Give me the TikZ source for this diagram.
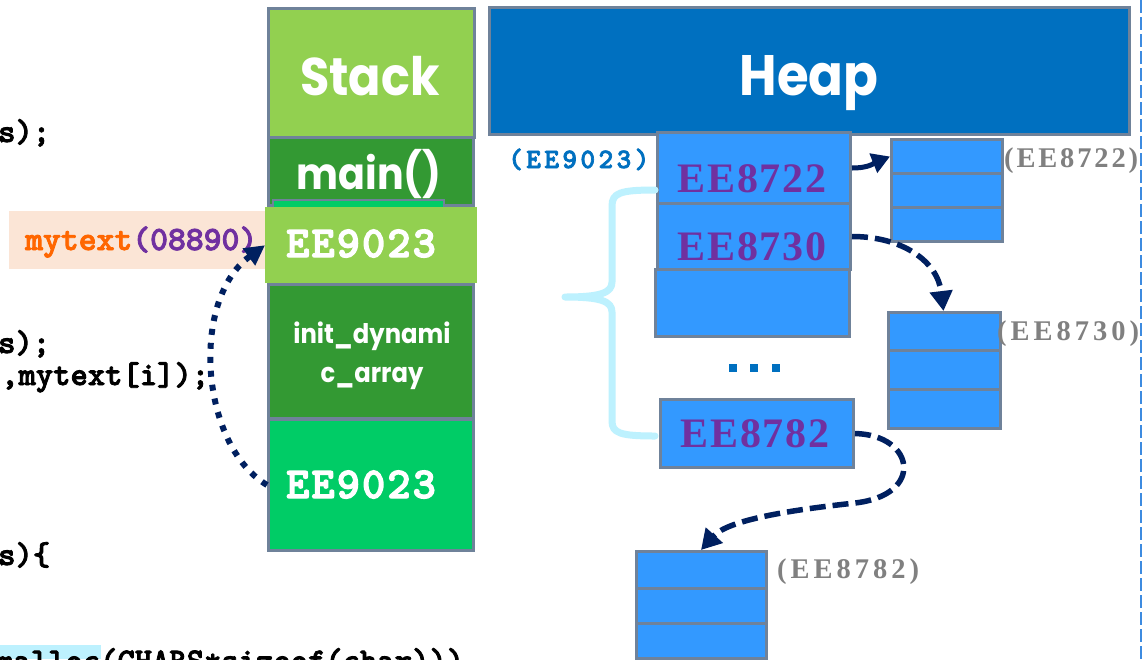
\documentclass[tikz,border=0pt]{standalone}
\usepackage{fontspec}
\usetikzlibrary{arrows.meta}

\newfontfamily\gothic{Poppins}[FakeStretch=0.9]
\newfontfamily\codefont{lmmonolt10-bold.otf}[FakeBold=2.5]
\newfontfamily\stackcode{lmmonolt10-bold.otf}[LetterSpace=5,FakeBold=3]
\newfontfamily\codewide{lmmonolt10-bold.otf}[LetterSpace=12,FakeBold=2.5]
\newfontfamily\addrfont{Liberation Serif}[LetterSpace=4]
\newfontfamily\tagfont{Liberation Serif}[LetterSpace=14]
\newfontfamily\tagfontnarrow{Liberation Serif}[LetterSpace=10]

\definecolor{lightgreen}{HTML}{92D050}
\definecolor{darkgreen}{HTML}{339933}
\definecolor{brightgreen}{HTML}{00CC66}
\definecolor{slate}{HTML}{6F829A}
\definecolor{heapblue}{HTML}{0070C0}
\definecolor{cellblue}{HTML}{3399FF}
\definecolor{addrpurple}{HTML}{7030A0}
\definecolor{navy}{HTML}{002060}
\definecolor{peach}{HTML}{FBE5D6}
\definecolor{varorange}{HTML}{FF6600}
\definecolor{bracecyan}{HTML}{BDF1FE}
\definecolor{taggray}{HTML}{808080}
\definecolor{edgeblue}{HTML}{3D8BE0}

\begin{document}
\begin{tikzpicture}[x=1pt,y=-1pt,
  frame/.style={draw=slate, line width=3pt, rectangle, inner sep=0pt, anchor=north west},
  plain/.style={rectangle, inner sep=0pt, anchor=north west},
  code/.style={font=\codefont\fontsize{33}{36}\selectfont, inner sep=0pt, anchor=base west},
  title/.style={font=\gothic\bfseries\fontsize{53}{58}\selectfont, text=white, inner sep=0pt, anchor=base},
  frametext/.style={font=\gothic\bfseries\fontsize{44}{48}\selectfont, text=white, inner sep=0pt, anchor=base},
  ptr/.style={font=\stackcode\fontsize{44}{46}\selectfont, text=white, inner sep=0pt, anchor=base},
  addr/.style={font=\addrfont\bfseries\fontsize{42}{46}\selectfont, text=addrpurple, inner sep=0pt, anchor=base},
  tag/.style={font=\tagfont\bfseries\fontsize{28.5}{30}\selectfont, text=taggray, inner sep=0pt, anchor=base west},
  cell/.style={frame, fill=cellblue},
  link/.style={draw=navy, line width=5pt},
  dashlink/.style={link, line width=5.5pt, dash pattern=on 16pt off 7pt},
  dotlink/.style={draw=navy, line width=6pt, dash pattern=on 6pt off 8pt},
  bigtip/.style={-{Triangle[length=20pt,width=22pt]}}
]
\useasboundingbox (0,0) rectangle (1142,659);
\clip (0,0) rectangle (1142,659);
\fill[white] (0,0) rectangle (1142,659);

% --- fragments of the C listing ---
\node[code] (l1) at (-2,142) {s);};
\node[plain, fill=peach, minimum width=256pt, minimum height=58pt] (varbox) at (9,211) {};
\node[font=\codefont\fontsize{34}{36}\selectfont, inner sep=0pt, anchor=base west] (varname) at (25,250)
  {\textcolor{varorange}{mytext}\textcolor{addrpurple}{(08890)}};
\node[code] (l2) at (-2,353) {s);};
\node[code] (l3) at (1,385) {,mytext[i]);};
\node[code] (l4) at (-2,565) {s)\{};
\fill[bracecyan] (0,645) rectangle (101,659);
\node[code] (l5) at (-4,671) {malloc(CHARS*sizeof(char)))};

% --- stack column ---
\node[frame, fill=lightgreen, minimum width=206pt, minimum height=129pt] (stack) at (267,7) {};
\node[title] (stacklbl) at (370,95) {Stack};
\node[frame, fill=darkgreen, minimum width=205pt, minimum height=68pt] (mainf) at (267,136) {};
\node[frametext] (mainlbl) at (369,189) {main()};
\node[draw=slate, line width=2pt, fill=brightgreen, plain, minimum width=171pt, minimum height=16pt] (strip) at (272,199) {};
\node[plain, fill=lightgreen, minimum width=212pt, minimum height=76pt] (mytextcell) at (265,207) {};
\node[ptr] (mytextval) at (361,257) {EE9023};
\node[frame, fill=darkgreen, minimum width=205pt, minimum height=134pt] (initf) at (267,283) {};
\node[font=\gothic\bfseries\fontsize{27}{39}\selectfont, text=white, inner sep=0pt, align=center] (initlbl) at (372,356) {init\_dynami\\c\_array};
\node[frame, fill=brightgreen, minimum width=205pt, minimum height=131pt] (argcell) at (267,418) {};
\node[ptr] (argval) at (361,498) {EE9023};

% --- heap ---
\node[frame, fill=heapblue, minimum width=640pt, minimum height=127pt] (heap) at (488,6) {};
\node[title, font=\gothic\bfseries\fontsize{57}{60}\selectfont] (heaplbl) at (809,95) {Heap};
\node[font=\codewide\fontsize{28}{30}\selectfont, text=heapblue, inner sep=0pt, anchor=base west] (arrtag) at (508,168) {(EE9023)};

\node[cell, minimum width=193pt, minimum height=71pt] (b1) at (656,131) {};
\node[addr] (b1lbl) at (752,192) {EE8722};
\node[cell, minimum width=193pt, minimum height=66pt] (b2) at (656,202) {};
\node[addr] (b2lbl) at (752,260) {EE8730};
\node[cell, minimum width=194pt, minimum height=67pt] (b3) at (654,268) {};
\foreach \i/\x in {1/729,2/750,3/772}
  \node[plain, fill=heapblue, minimum width=8pt, minimum height=8pt] (dot\i) at (\x,364) {};
\node[cell, minimum width=193pt, minimum height=68pt] (b4) at (659,398) {};
\node[addr] (b4lbl) at (755,447) {EE8782};

% brace grouping the array slots
\draw[bracecyan, line width=7pt, line cap=round, line join=round]
  (655,190) .. controls (620,190) and (612,193) .. (612,206) -- (612,282)
  .. controls (612,293) and (600,297) .. (565,297)
  .. controls (600,297) and (612,301) .. (612,312) -- (612,421)
  .. controls (612,433) and (620,436) .. (655,436);

% string buffers
\node[cell, minimum width=111pt, minimum height=34pt] (a1r1) at (890,138) {};
\node[cell, minimum width=111pt, minimum height=34pt] (a1r2) at (890,172) {};
\node[cell, minimum width=111pt, minimum height=34pt] (a1r3) at (890,206) {};
\node[tag, font=\tagfontnarrow\bfseries\fontsize{28.5}{30}\selectfont] (a1tag) at (1004,167) {(EE8722)};

\node[cell, minimum width=112pt, minimum height=38pt] (a2r1) at (887,311) {};
\node[cell, minimum width=112pt, minimum height=39pt] (a2r2) at (887,349) {};
\node[cell, minimum width=112pt, minimum height=39pt] (a2r3) at (887,388) {};
\node[tag] (a2tag) at (997,340) {(EE8730)};

\node[cell, minimum width=130pt, minimum height=37pt] (a3r1) at (635,550) {};
\node[cell, minimum width=130pt, minimum height=35pt] (a3r2) at (635,587) {};
\node[cell, minimum width=130pt, minimum height=35pt] (a3r3) at (635,622) {};
\node[tag] (a3tag) at (777,578) {(EE8782)};

% pointers
\draw[link, -{Triangle[length=18pt,width=20pt]}] (b1.east) .. controls +(18,0) and +(-15,6) .. (a1r1.west);
\draw[dashlink, bigtip] (b2.east) .. controls +(50,0) and +(-6,-50) .. ([xshift=-1pt]a2r1.north);
\draw[dashlink, bigtip] (b4.east) .. controls (915,435) and (925,495) .. (855,503)
  .. controls (790,510) and (728,520) .. ([xshift=-0.5pt]a3r1.north);
\draw[dotlink, -{Triangle[length=20pt,width=20pt]}] (argcell.west) .. controls (200,445) and (190,300) .. (mytextcell.west);

% page edge
\draw[edgeblue, line width=2pt, dash pattern=on 13pt off 4pt] (1141,0) -- (1141,659);
\end{tikzpicture}
\end{document}
